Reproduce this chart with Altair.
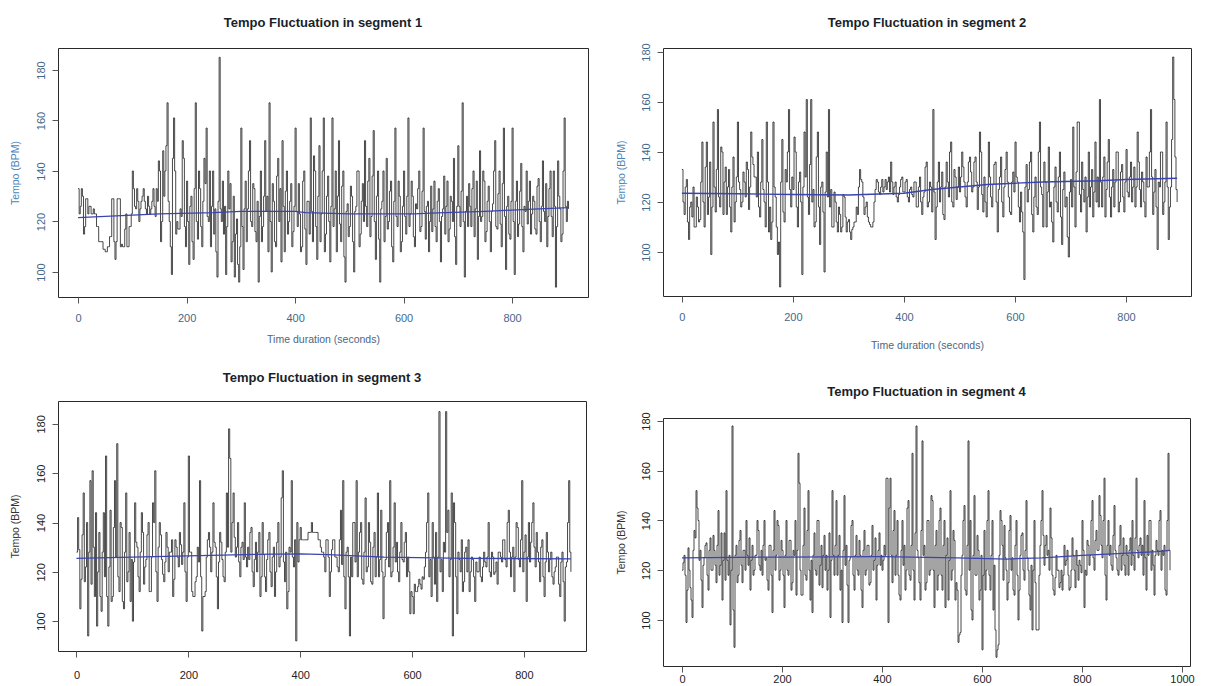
import altair as alt
import pandas as pd

# ---------------- data (tempo in BPM, sampled every 2 s) ----------------
STEP = 2

seg1_tempo = [
    133,123,126,133,130,115,118,129,129,123,126,126,123,123,125,123,123,118,118,112,112,112,112,109,109,
    108,108,110,110,114,114,129,129,112,105,112,129,129,129,110,111,110,110,117,123,110,110,118,118,123,
    140,133,126,125,133,128,120,125,128,130,133,128,125,123,130,126,123,125,128,133,126,122,133,128,144,
    140,112,120,148,130,140,150,167,128,120,110,99,145,161,140,115,120,117,117,125,122,152,145,118,110,
    136,120,103,126,130,112,105,133,167,120,113,140,133,118,110,128,145,135,157,122,120,140,110,126,140,
    115,125,108,98,128,185,125,120,136,115,126,99,118,140,125,135,104,112,130,98,115,121,103,96,110,
    157,118,101,125,136,112,125,140,152,120,118,135,133,116,112,128,96,122,140,112,118,130,152,124,130,
    108,167,120,100,135,128,112,110,138,145,120,133,104,152,126,108,132,140,115,120,128,135,110,116,126,
    157,124,118,135,123,108,110,136,140,117,103,128,128,115,161,124,112,146,140,118,105,130,150,112,123,
    140,161,108,115,130,138,120,104,126,161,118,125,140,108,130,152,119,112,134,140,106,96,124,127,114,
    118,134,130,112,100,124,126,140,140,110,115,128,135,120,152,126,118,136,145,114,122,138,156,120,105,
    130,140,113,96,125,128,140,112,122,145,117,120,132,136,110,104,128,157,122,118,136,130,108,112,126,
    140,122,115,130,161,118,123,136,130,114,110,127,125,133,140,116,118,132,157,124,113,126,128,108,120,
    134,116,125,136,118,112,128,133,120,104,122,125,138,115,126,136,112,117,130,128,120,145,114,103,126,
    150,126,118,132,167,120,98,124,130,118,135,126,118,133,140,114,125,136,105,122,148,120,122,140,136,
    112,116,128,134,120,108,124,127,140,152,118,117,131,140,119,110,135,157,122,101,126,130,115,113,128,
    157,120,99,128,136,114,119,132,143,118,108,126,124,140,119,128,136,115,123,130,128,117,115,134,137,
    120,112,126,144,124,120,135,110,122,133,140,122,114,140,126,94,118,144,130,125,112,115,140,161,126,
    120,128,125,
]
seg2_tempo = [
    133,120,115,126,129,112,105,118,120,114,126,110,110,122,118,112,113,128,144,120,110,134,144,115,122,
    136,99,118,152,126,116,133,157,122,118,142,140,115,128,134,115,126,133,118,108,126,138,112,120,130,
    152,128,125,118,120,132,128,122,136,133,117,126,148,138,135,130,130,122,140,118,114,128,145,125,120,
    110,152,128,108,118,105,112,152,126,122,110,99,104,86,128,145,116,112,133,128,140,157,125,118,130,
    125,146,140,118,110,128,132,120,91,126,148,130,161,122,115,135,161,120,125,110,112,138,148,118,103,
    126,128,116,92,124,140,122,157,118,125,110,110,124,120,112,108,118,115,108,110,123,122,114,108,112,
    113,108,105,109,110,112,112,118,115,126,133,129,128,122,115,118,120,114,112,111,110,110,112,120,125,
    129,128,124,123,126,129,124,126,129,125,128,130,124,136,128,123,126,128,122,120,123,126,129,130,124,
    124,128,129,122,120,125,126,123,122,128,128,118,118,126,130,120,115,122,124,134,136,118,120,128,126,
    116,157,124,105,118,128,136,120,126,132,115,113,126,136,128,122,140,144,120,118,133,130,121,126,134,
    124,130,140,134,128,122,118,128,136,138,132,124,126,136,138,128,117,126,148,140,123,116,130,120,114,
    126,144,130,122,118,127,135,136,120,108,125,130,138,120,114,126,133,140,128,122,116,115,128,132,124,
    144,130,128,118,112,124,116,108,89,126,135,120,125,136,140,115,108,122,130,118,115,140,152,126,123,
    110,136,128,110,124,142,118,120,112,104,126,134,120,116,130,140,114,103,125,132,118,122,106,98,124,
    129,118,150,126,110,132,152,152,123,116,136,125,120,130,108,122,140,118,126,133,114,124,144,120,130,
    118,161,128,118,130,138,114,125,136,145,122,114,126,133,118,128,140,140,116,120,132,135,122,116,128,
    141,124,122,130,136,120,126,134,118,126,148,136,125,118,132,128,120,114,138,126,126,140,157,130,115,
    124,133,118,101,128,126,140,140,115,120,128,152,126,105,118,126,145,178,161,138,125,120,
]
seg3_tempo = [
    128,142,129,105,117,135,152,116,122,140,94,128,157,115,161,130,110,144,98,120,136,110,104,128,144,
    118,167,110,98,122,145,108,110,138,157,126,172,118,112,140,138,108,105,128,152,116,120,136,108,125,
    100,124,148,132,130,118,112,128,144,136,115,122,125,135,140,112,112,126,148,140,161,120,108,130,140,
    135,125,119,116,124,136,130,120,128,128,133,110,117,133,130,126,122,136,131,123,128,148,120,108,126,
    167,128,128,112,110,110,116,118,130,124,157,118,96,110,110,112,126,133,136,130,120,128,148,132,130,
    118,105,124,136,132,125,118,116,128,152,130,178,166,128,140,152,134,126,130,140,124,118,130,132,125,
    148,126,122,130,125,136,138,120,114,125,132,120,128,136,110,118,140,127,118,112,125,133,136,120,114,
    126,130,110,120,132,140,122,126,150,161,124,116,128,105,112,130,128,157,126,122,133,92,140,124,133,
    138,133,133,133,133,133,133,136,136,136,140,136,136,136,136,136,133,133,130,128,128,126,120,133,133,
    126,110,120,129,133,133,126,126,122,120,133,145,123,157,118,105,128,130,118,94,126,118,140,140,124,
    157,118,128,136,140,117,115,128,150,120,122,140,132,116,115,130,136,118,126,152,118,125,145,120,101,
    118,125,136,140,122,157,118,120,130,148,124,132,120,116,128,140,125,124,132,136,118,126,120,103,112,
    110,103,115,112,112,114,117,115,113,118,117,122,128,140,152,118,125,110,140,126,115,136,108,126,185,
    120,125,112,132,128,185,136,145,118,125,152,94,148,140,118,103,128,125,120,133,112,116,128,130,120,
    133,112,120,126,125,118,108,124,120,120,126,118,116,122,128,124,122,126,140,120,118,128,126,119,120,
    124,115,128,128,126,124,133,133,125,122,140,145,128,118,126,130,112,126,140,138,125,122,133,157,120,
    128,135,108,126,140,124,132,140,148,130,122,136,128,124,116,130,133,118,110,124,136,128,120,125,128,
    118,115,120,122,126,126,115,110,124,128,116,100,122,124,140,157,128,120,
]
seg4_tempo = [
    120,123,126,118,99,112,129,120,113,108,101,128,136,133,152,145,140,124,128,116,105,122,125,130,131,
    118,112,128,133,120,120,134,128,122,115,130,144,118,122,135,108,124,135,116,152,124,118,126,98,120,
    178,104,89,126,130,115,118,132,136,122,115,128,128,120,140,126,122,133,112,124,130,118,120,126,126,
    140,136,122,120,128,118,130,140,124,125,116,112,130,130,118,103,128,144,120,126,140,138,116,120,132,
    128,118,105,126,140,120,118,132,132,112,115,128,126,140,110,128,167,155,120,110,110,130,145,118,116,
    136,152,120,108,124,103,126,135,120,118,140,140,114,122,130,113,126,134,120,126,112,120,135,101,124,
    152,126,118,130,148,118,126,134,112,120,99,128,150,122,130,114,99,124,125,138,140,118,112,126,134,
    120,118,132,126,112,105,128,136,118,120,130,130,114,115,126,138,120,124,133,108,122,128,135,122,126,
    120,124,130,126,157,157,99,145,157,126,115,136,144,118,126,140,118,110,108,128,140,122,130,112,120,
    145,148,118,116,130,167,120,108,135,178,128,125,115,108,136,172,126,130,112,115,140,140,118,120,150,
    148,120,105,130,136,112,118,140,145,118,112,130,140,105,126,133,108,124,152,116,120,136,132,108,115,
    112,91,94,95,118,126,140,146,112,110,130,172,120,140,104,100,126,150,118,118,134,128,108,112,126,
    88,118,136,112,120,140,152,118,112,126,140,104,122,96,85,88,90,126,144,140,130,116,138,125,120,
    108,115,136,142,120,125,112,110,130,140,118,100,112,126,134,135,120,116,128,148,125,120,110,104,122,
    96,120,140,115,96,96,96,118,130,140,152,134,122,130,134,126,128,120,145,133,118,112,110,117,126,
    120,120,113,115,120,112,118,130,122,124,128,118,112,113,120,133,126,120,113,128,122,116,124,122,119,
    140,128,105,120,118,132,130,122,126,140,148,125,120,132,136,128,128,150,142,130,125,140,157,118,108,
    130,140,126,130,122,120,134,146,128,125,120,118,130,138,120,126,133,122,118,130,126,118,128,133,122,
    140,126,120,133,157,128,125,130,133,126,130,118,148,125,112,134,126,140,140,120,128,122,110,126,132,
    128,126,140,144,120,128,126,130,112,110,140,167,128,120,
]

# smoothed trend (blue line)
seg1_trend_t = [0, 50, 100, 150, 250, 300, 400, 420, 500, 620, 650, 750, 800, 850, 904]
seg1_trend_v = [121.5, 122, 122.5, 123, 123.5, 124, 124, 123.5, 123, 123, 123.3, 124, 124.5, 125, 125.5]
seg2_trend_t = [0, 100, 200, 300, 400, 450, 500, 550, 600, 650, 750, 800, 892]
seg2_trend_v = [123.5, 123.3, 123, 122.8, 123.5, 125, 126, 127, 127.5, 128, 128.5, 129, 129.5]
seg3_trend_t = [0, 100, 200, 300, 400, 450, 500, 550, 700, 884]
seg3_trend_v = [125.5, 126, 126.5, 127, 127.3, 127, 126.5, 126, 125.5, 125.3]
seg4_trend_t = [0, 200, 400, 550, 650, 720, 800, 850, 950, 976]
seg4_trend_v = [125, 125.3, 125.5, 125, 124.5, 125, 126, 126.5, 127.5, 128]

titles = ["Tempo Fluctuation in segment 1", "Tempo Fluctuation in segment 2",
          "Tempo Fluctuation in segment 3", "Tempo Fluctuation in segment 4"]
x_ticks_a = [0, 200, 400, 600, 800]
x_ticks_b = [0, 200, 400, 600, 800, 1000]
y_ticks = [100, 120, 140, 160, 180]

FONT = "Liberation Sans"


def panel(vals, tt, tv, title, xdom, ydom, xticks, w, h, top, ytpad, toff, xtpad=11, xlpad=9):
    df = pd.DataFrame({"t": [i * STEP for i in range(len(vals))], "bpm": vals})
    tdf = pd.DataFrame({"t": tt, "bpm": tv})
    lab_col = "#45688a" if top else "#222222"
    ytitle_col = "#4a86bd" if top else "#333333"
    xaxis = alt.Axis(values=xticks, format="d", domain=False, grid=False, tickSize=6,
                     tickColor="#555555",
                     labelColor=lab_col, labelFont=FONT, labelFontSize=11, labelPadding=xlpad,
                     title="Time duration (seconds)" if top else None,
                     titleColor="#4d6683", titleFont=FONT, titleFontSize=10.5,
                     titleFontWeight="normal", titlePadding=xtpad)
    yaxis = alt.Axis(values=y_ticks, domain=False, grid=False, tickSize=6, tickColor="#555555",
                     labelColor=lab_col, labelFont=FONT, labelFontSize=11, labelPadding=6,
                     labelAngle=270, labelAlign="center", labelBaseline="bottom",
                     title="Tempo (BPM)", titleColor=ytitle_col, titleFont=FONT,
                     titleFontSize=10.5, titleFontWeight="normal", titlePadding=ytpad)
    line = alt.Chart(df).mark_line(interpolate="step-after", color="#1a1a1a", strokeWidth=0.8).encode(
        x=alt.X("t:Q", scale=alt.Scale(domain=xdom, nice=False, zero=False), axis=xaxis),
        y=alt.Y("bpm:Q", scale=alt.Scale(domain=ydom, nice=False, zero=False), axis=yaxis),
    )
    trend = alt.Chart(tdf).mark_line(color="#3a44b0", strokeWidth=1.3).encode(
        x="t:Q", y="bpm:Q")
    return alt.layer(line, trend).properties(
        width=w, height=h,
        view=alt.ViewBackground(stroke="#2a2a2a", strokeWidth=1),
        title=alt.TitleParams(title, font=FONT, fontSize=13, fontWeight="bold",
                              color="#1a1f2a", anchor="middle", offset=toff))


p1 = panel(seg1_tempo, seg1_trend_t, seg1_trend_v, titles[0], [-37, 940], [90.1, 188.7],
           x_ticks_a, 530, 249, True, 15, 18)
p2 = panel(seg2_tempo, seg2_trend_t, seg2_trend_v, titles[1], [-34, 917], [82.4, 181.6],
           x_ticks_a, 528, 248, True, 14, 13, xtpad=18)
p3 = panel(seg3_tempo, seg3_trend_t, seg3_trend_v, titles[2], [-33, 911], [87.9, 189.3],
           x_ticks_a, 528, 250, False, 15, 16, xlpad=12)
p4 = panel(seg4_tempo, seg4_trend_t, seg4_trend_v, titles[3], [-38, 1016], [81.5, 181.2],
           x_ticks_b, 527, 248, False, 14, 13, xlpad=1)

col1 = alt.concat(p1, p3, columns=1, spacing=26, align="none")
col2 = alt.concat(p2, p4, columns=1, spacing=34, align="none")

chart = alt.hconcat(col1, col2, spacing=26).properties(
    padding={"left": 1, "top": 8, "right": 0, "bottom": 0}
).configure_view(stroke="#2a2a2a", strokeWidth=1).configure(background="white")

chart.save("out.html", embed_options={"renderer": "svg", "actions": False})
